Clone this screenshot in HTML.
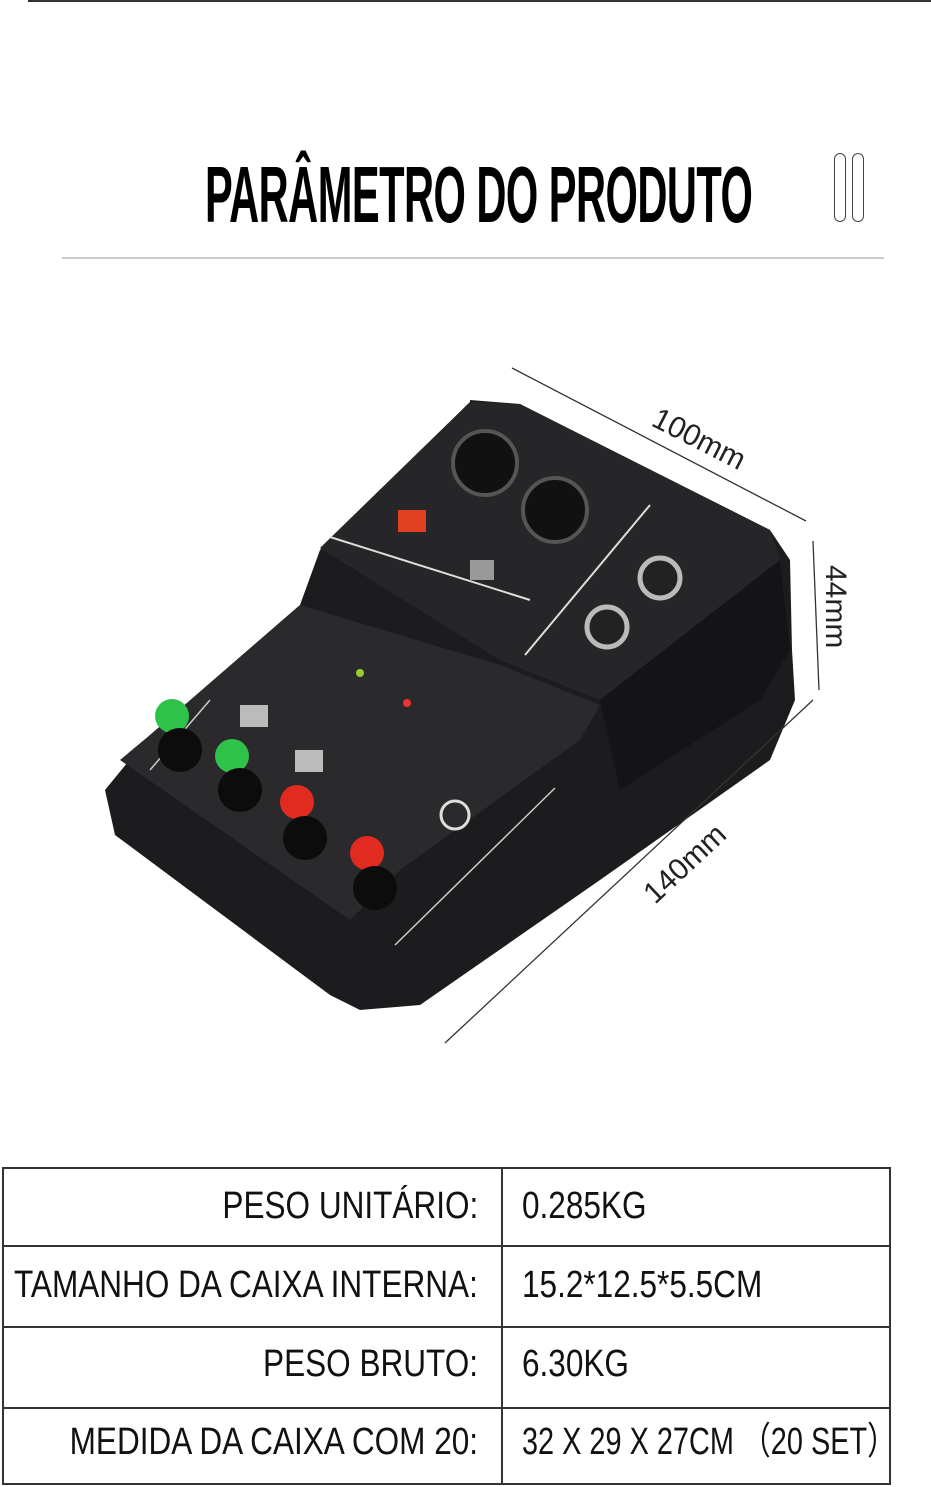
<!DOCTYPE html>
<html><head><meta charset="utf-8"><style>
html,body{margin:0;padding:0;background:#fff;}
body{width:931px;height:1487px;position:relative;overflow:hidden;font-family:"Liberation Sans",sans-serif;}
.abs{position:absolute;}
.title{left:205px;top:150px;display:inline-block;font-weight:bold;font-size:80px;line-height:90px;letter-spacing:-1px;transform:scaleX(0.52);transform-origin:left top;white-space:nowrap;color:#000;}
table{position:absolute;left:2px;top:1167px;width:887px;border-collapse:collapse;table-layout:fixed;}
td{border:2px solid #333;padding:0;}
.t{position:absolute;font-size:38px;line-height:44px;color:#111;white-space:nowrap;}
.l{right:453px;transform:scaleX(0.83);transform-origin:right center;}
.r{left:522px;transform:scaleX(0.83);transform-origin:left center;}
</style></head><body>
<div class="abs" style="left:28px;top:0;width:903px;height:2px;background:#333"></div>
<div class="abs title">PARÂMETRO DO PRODUTO</div>
<div class="abs" style="left:834px;top:153px;width:10px;height:67px;border:1.5px solid #444;border-radius:6px"></div>
<div class="abs" style="left:852px;top:153px;width:10px;height:67px;border:1.5px solid #444;border-radius:6px"></div>
<div class="abs" style="left:62px;top:257px;width:822px;height:2px;background:#ccc"></div>

<svg class="abs" style="left:0;top:0" width="931" height="1100" viewBox="0 0 931 1100">
<polygon points="470,400 520,404 770,530 790,560 792,650 795,700 770,760 600,880 420,1005 360,1010 330,995 115,835 105,790 150,735 300,605 320,550 470,402" fill="#1c1c1e"/>
<polygon points="470,402 520,404 770,530 780,560 600,700 500,660 320,548" fill="#262628"/>
<polygon points="300,605 500,665 600,705 580,740 400,870 350,920 120,760 150,735" fill="#2a2a2c"/>
<polygon points="600,700 780,560 790,650 760,700 620,790" fill="#141416"/>
<line x1="330" y1="537" x2="530" y2="600" stroke="#ddd" stroke-width="2"/>
<line x1="650" y1="505" x2="525" y2="655" stroke="#ddd" stroke-width="2"/>
<line x1="555" y1="788" x2="395" y2="945" stroke="#ccc" stroke-width="1.5"/>
<line x1="210" y1="700" x2="150" y2="770" stroke="#ccc" stroke-width="1.5"/>
<circle cx="485" cy="463" r="32" fill="#111" stroke="#555" stroke-width="4"/>
<circle cx="555" cy="510" r="32" fill="#111" stroke="#555" stroke-width="4"/>
<circle cx="660" cy="578" r="20" fill="#222" stroke="#bbb" stroke-width="5"/>
<circle cx="607" cy="627" r="20" fill="#222" stroke="#bbb" stroke-width="5"/>
<rect x="398" y="510" width="28" height="22" fill="#e04020"/>
<rect x="470" y="560" width="24" height="20" fill="#999"/>
<rect x="240" y="705" width="28" height="22" fill="#bbb"/>
<rect x="295" y="750" width="28" height="22" fill="#bbb"/>
<circle cx="172" cy="716" r="17" fill="#2ec24a"/>
<circle cx="232" cy="756" r="17" fill="#2ec24a"/>
<circle cx="297" cy="802" r="17" fill="#e22b20"/>
<circle cx="367" cy="853" r="17" fill="#e22b20"/>
<circle cx="180" cy="750" r="22" fill="#0c0c0c"/>
<circle cx="240" cy="790" r="22" fill="#0c0c0c"/>
<circle cx="305" cy="838" r="22" fill="#0c0c0c"/>
<circle cx="375" cy="888" r="22" fill="#0c0c0c"/>
<circle cx="455" cy="815" r="14" fill="none" stroke="#ddd" stroke-width="3"/>
<circle cx="360" cy="673" r="4" fill="#9c3"/><circle cx="407" cy="703" r="4" fill="#e33"/>
<line x1="512" y1="368" x2="806" y2="521" stroke="#333" stroke-width="1.3"/>
<line x1="813" y1="541" x2="819" y2="690" stroke="#333" stroke-width="1.3"/>
<line x1="813" y1="700" x2="445" y2="1043" stroke="#333" stroke-width="1.3"/>
<text x="650" y="425" font-family="Liberation Sans,sans-serif" font-size="30" fill="#222" transform="rotate(27 650 425)">100mm</text>
<text x="826" y="565" font-family="Liberation Sans,sans-serif" font-size="30" fill="#222" transform="rotate(90 826 565)">44mm</text>
<text x="655" y="905" font-family="Liberation Sans,sans-serif" font-size="30" fill="#222" transform="rotate(-43 655 905)">140mm</text>
</svg>

<table>
<colgroup><col style="width:499px"><col style="width:388px"></colgroup>
<tr style="height:78px"><td></td><td></td></tr>
<tr style="height:81px"><td></td><td></td></tr>
<tr style="height:81px"><td></td><td></td></tr>
<tr style="height:76px"><td></td><td></td></tr>
</table>
<div class="t l" style="top:1184px">PESO UNITÁRIO:</div>
<div class="t r" style="top:1184px">0.285KG</div>
<div class="t l" style="top:1263px">TAMANHO DA CAIXA INTERNA:</div>
<div class="t r" style="top:1263px">15.2*12.5*5.5CM</div>
<div class="t l" style="top:1342px">PESO BRUTO:</div>
<div class="t r" style="top:1342px">6.30KG</div>
<div class="t l" style="top:1420px">MEDIDA DA CAIXA COM 20:</div>
<div class="t r" style="top:1420px;transform:scaleX(0.76)">32 X 29 X 27CM （20 SET）</div>
</body></html>
